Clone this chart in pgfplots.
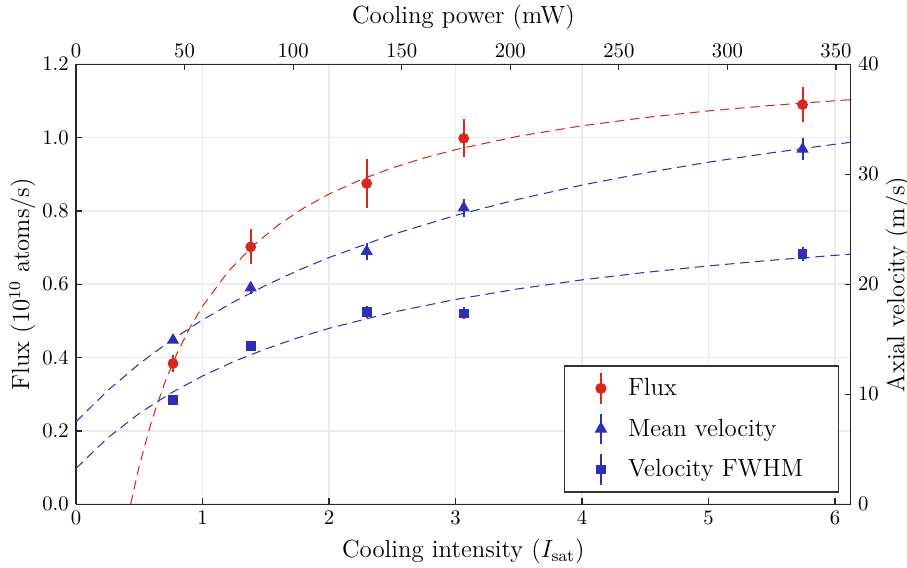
\documentclass[border=0pt]{standalone}
\usepackage{pgfplots}
\pgfplotsset{compat=1.18}
\definecolor{fluxred}{RGB}{215,40,30}
\definecolor{velblue}{RGB}{45,48,180}

\pgfplotstableread{
x      y      e
0.767  0.384  0.022
1.381  0.702  0.048
2.298  0.875  0.067
3.065  0.998  0.052
5.744  1.090  0.048
}\fluxdata

\pgfplotstableread{
x      y      e
0.767  14.93  0.30
1.381  19.68  0.55
2.298  23.00  0.75
3.065  26.95  0.80
5.744  32.30  1.00
}\meandata

\pgfplotstableread{
x      y      e
0.767  9.47   0.20
1.381  14.38  0.35
2.298  17.47  0.55
3.065  17.35  0.55
5.744  22.74  0.65
}\fwhmdata

\begin{document}
\begin{tikzpicture}
\pgfplotsset{
  common/.style={
    width=374.6pt, height=212.7pt, scale only axis,
    at={(0,0)}, anchor=south west,
    xmin=0, xmax=6.125,
    axis line style={line width=0.6pt, black!85},
    every tick/.style={line width=0.6pt, black!85},
    major tick length=2.8pt, tick align=inside,
    tick label style={font=\normalsize},
    label style={font=\large},
  },
  errstyle/.style={only marks, #1,
    error bars/y dir=both, error bars/y explicit,
    error bars/error bar style={line width=1pt, #1},
    error bars/error mark=none},
  errlegend/.style={
    legend image code/.code={
      \draw[mark=none, solid, line width=1pt] (0.3cm,-0.26cm) -- (0.3cm,0.26cm);
      \draw[mark repeat=2, mark phase=2] plot coordinates {(0cm,0cm)(0.3cm,0cm)(0.6cm,0cm)};
    }},
  fitline/.style={#1, line width=0.5pt, dash pattern=on 4.5pt off 2.8pt, forget plot},
}

% ---- left / bottom axis : flux ----
\begin{axis}[common,
  ymin=0, ymax=1.2,
  axis x line*=bottom, axis y line*=left,
  xtick={0,1,2,3,4,5,6},
  ytick={0,0.2,0.4,0.6,0.8,1.0,1.2},
  yticklabel style={/pgf/number format/.cd, fixed, fixed zerofill, precision=1},
  grid=major, grid style={black!8, line width=0.8pt},
  xlabel={Cooling intensity ($I_\mathrm{sat}$)},
  ylabel={Flux ($10^{10}$ atoms/s)},
  ylabel shift=-3.5pt,
]
\addplot[fitline=fluxred] coordinates {
(0.432,0) (0.5,0.1044) (0.6,0.2296) (0.7,0.3302) (0.8,0.4126) (0.9,0.4815)
(1.0,0.5399) (1.2,0.6335) (1.4,0.7052) (1.6,0.7620) (1.8,0.8080) (2.0,0.8460)
(2.25,0.8852) (2.5,0.9175) (2.75,0.9444) (3.0,0.9673) (3.5,1.0041) (4.0,1.0324)
(4.5,1.0548) (5.0,1.0730) (5.5,1.0880) (6.0,1.1007) (6.125,1.1036)};
\addplot[errstyle=fluxred, mark=*, mark size=2.4pt] table[x=x, y=y, y error=e] {\fluxdata};
\end{axis}

% ---- right axis : velocities ----
\begin{axis}[common,
  ymin=0, ymax=40,
  axis y line*=right, axis x line=none,
  ytick={0,10,20,30,40},
  ylabel={Axial velocity (m/s)},
  ylabel shift=-3.5pt,
  legend cell align=left,
  legend style={at={(1,0)}, anchor=south east, xshift=-5.7pt, yshift=5.6pt,
    draw=black!80, line width=0.6pt, fill=white, font=\large,
    inner xsep=15pt, inner ysep=3pt, row sep=3.8pt,
    /tikz/every odd column/.append style={column sep=8.5pt}},
]
\addlegendimage{errstyle=fluxred, mark=*, mark size=2.4pt, errlegend}
\addlegendentry{Flux}
\addplot[fitline=velblue] coordinates {
(0,7.5) (0.25,10.33) (0.5,12.77) (0.75,14.89) (1.0,16.76) (1.25,18.42) (1.5,19.90)
(1.75,21.23) (2.0,22.43) (2.5,24.52) (3.0,26.26) (3.5,27.74) (4.0,29.02) (4.5,30.13)
(5.0,31.10) (5.5,31.96) (6.0,32.73) (6.125,32.91)};
\addplot[fitline=velblue] coordinates {
(0,3.26) (0.25,6.03) (0.5,8.26) (0.75,10.11) (1.0,11.66) (1.25,12.99) (1.5,14.12)
(1.75,15.12) (2.0,15.99) (2.5,17.45) (3.0,18.62) (3.5,19.59) (4.0,20.40) (4.5,21.08)
(5.0,21.67) (5.5,22.19) (6.0,22.63) (6.125,22.74)};
\addplot[errstyle=velblue, mark=triangle*, mark size=3pt, errlegend] table[x=x, y=y, y error=e] {\meandata};
\addlegendentry{Mean velocity}
\addplot[errstyle=velblue, mark=square*, mark size=2.1pt, errlegend] table[x=x, y=y, y error=e] {\fwhmdata};
\addlegendentry{Velocity FWHM}
\end{axis}

% ---- top axis : cooling power ----
\begin{axis}[common,
  xmin=0, xmax=356.8, ymin=0, ymax=1,
  axis x line*=top, axis y line=none,
  xtick={0,50,100,150,200,250,300,350},
  xlabel={Cooling power (mW)},
]
\end{axis}

\pgfresetboundingbox
\useasboundingbox (-36.75pt,-30.36pt) rectangle (401.8pt,243.8pt);
\end{tikzpicture}
\end{document}
